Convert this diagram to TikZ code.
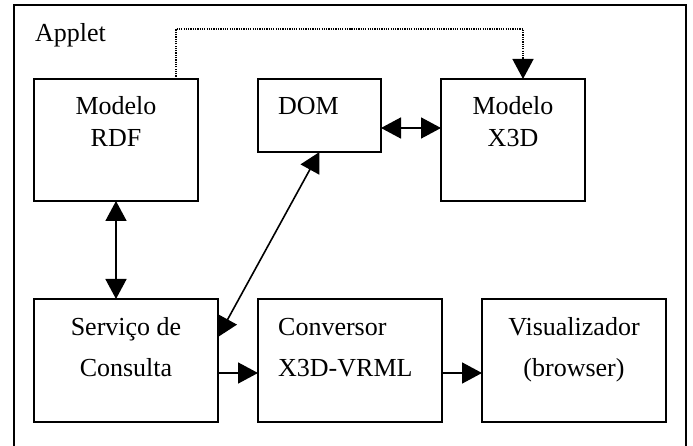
\documentclass[tikz,border=0pt]{standalone}
\usepackage{fontspec}
\setmainfont{Liberation Serif}
\usetikzlibrary{arrows.meta}
\begin{document}
\begin{tikzpicture}[x=1bp,y=-1bp,
  box/.style={draw, line width=1.8bp, rectangle, inner sep=0pt, outer sep=0pt},
  lbl/.style={anchor=base, inner sep=0pt, font=\fontsize{26bp}{32bp}\selectfont},
  lbll/.style={lbl, anchor=base west},
  conn/.style={line width=1.6bp, -{Triangle[length=20bp,width=21bp]}},
  dconn/.style={line width=1.6bp, {Triangle[length=20bp,width=21bp]}-{Triangle[length=20bp,width=21bp]}},
  dotconn/.style={line width=1.4bp, dash pattern=on 1.2bp off 1.1bp, -{Triangle[length=20bp,width=21bp]}}
]
\useasboundingbox (0,0) rectangle (693,446);
\fill[white] (0,0) rectangle (693,446);
% outer frame (bottom edge lies outside the picture)
\draw[line width=2bp] (14,452) -- (14,5) -- (686,5) -- (686,452);
\node[lbll] (applet) at (35,41.7) {Applet};
% boxes
\node[box, minimum width=164bp, minimum height=122bp] (rdf) at (116,140) {};
\node[box, minimum width=123bp, minimum height=73bp] (dom) at (319.5,115.5) {};
\node[box, minimum width=144bp, minimum height=122bp] (x3d) at (513,140) {};
\node[box, minimum width=184bp, minimum height=123bp] (serv) at (126,360.5) {};
\node[box, minimum width=184bp, minimum height=123bp] (conv) at (350,360.5) {};
\node[box, minimum width=184bp, minimum height=123bp] (vis) at (574,360.5) {};
% texts
\node[lbl] (rdfa) at (116,115) {Modelo};
\node[lbl] (rdfb) at (116,147) {RDF};
\node[lbll] (doma) at (278,115) {DOM};
\node[lbl] (x3da) at (513,115) {Modelo};
\node[lbl] (x3db) at (513,147) {X3D};
\node[lbl] (serva) at (126,336) {Serviço de};
\node[lbl] (servb) at (126,376) {Consulta};
\node[lbll] (conva) at (278,336) {Conversor};
\node[lbll] (convb) at (278,376) {X3D-VRML};
\node[lbl] (visa) at (574,336) {Visualizador};
\node[lbl] (visb) at (574,376) {(browser)};
% connectors
\coordinate (dtop) at (350,29);
\draw[dotconn] ([xshift=60bp]rdf.north) |- (dtop) -| ([xshift=10bp]x3d.north);
\draw[dconn] (rdf.south) -- (rdf.south |- serv.north);
\draw[dconn] ([yshift=-12.5bp]dom.east) -- ([yshift=-12.5bp]dom.east -| x3d.west);
\draw[dconn] ([yshift=23.5bp]serv.east) -- (dom.south);
\draw[conn] ([yshift=-12.5bp]serv.east) -- ([yshift=-12.5bp]serv.east -| conv.west);
\draw[conn] ([yshift=-12.5bp]conv.east) -- ([yshift=-12.5bp]conv.east -| vis.west);
\end{tikzpicture}
\end{document}
